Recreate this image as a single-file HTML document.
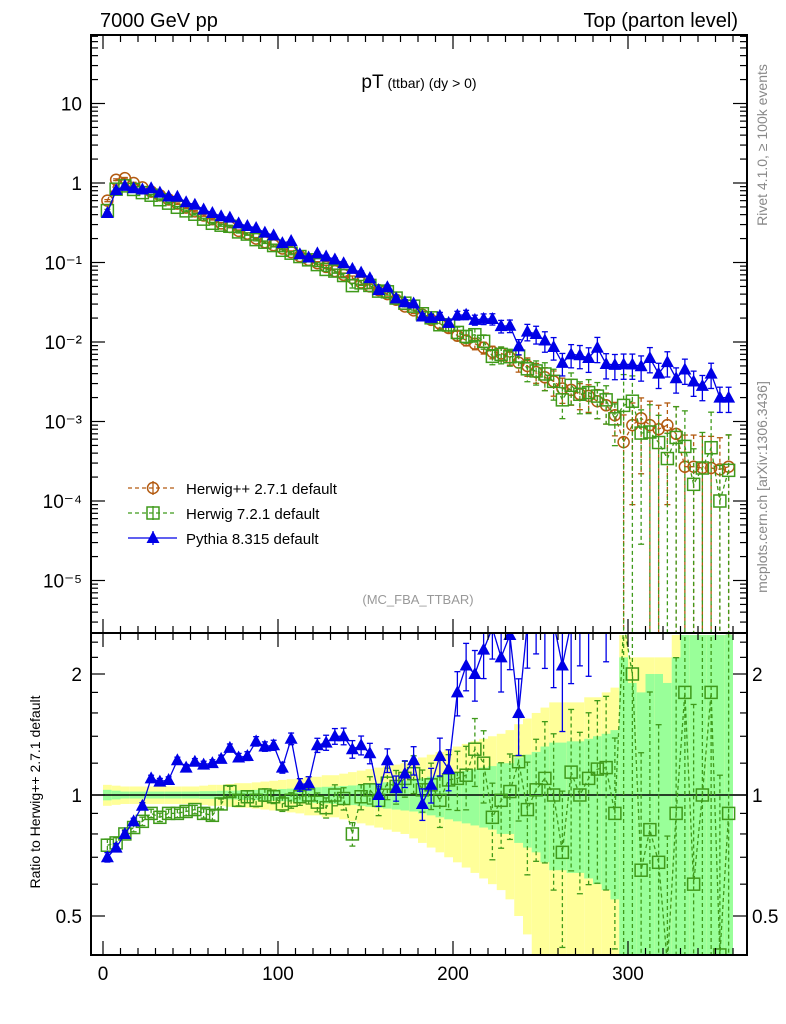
<!DOCTYPE html>
<html><head><meta charset="utf-8"><style>
body{margin:0;background:#fff;overflow:hidden;}
svg{display:block;font-family:"Liberation Sans",sans-serif;}
</style></head><body>
<svg id="c" width="786" height="1024" xmlns="http://www.w3.org/2000/svg">
<defs>
<clipPath id="cm"><rect x="91" y="35" width="656" height="598"/></clipPath>
<clipPath id="cr"><rect x="91" y="633" width="656" height="322"/></clipPath>
</defs>
<g id="bands" clip-path="url(#cr)"></g>
<g id="marks"></g>
<rect x="91" y="35" width="656" height="598" fill="none" stroke="#000" stroke-width="2"/>
<rect x="91" y="633" width="656" height="322" fill="none" stroke="#000" stroke-width="2"/>
<g id="axes"></g>
<text x="100" y="27" font-size="20">7000 GeV pp</text>
<text x="738" y="27" font-size="20" text-anchor="end">Top (parton level)</text>
<text x="419" y="88" text-anchor="middle"><tspan font-size="19">pT</tspan><tspan font-size="14"> (ttbar) (dy &gt; 0)</tspan></text>
<text x="418" y="604" font-size="13" fill="#999" text-anchor="middle">(MC_FBA_TTBAR)</text>
<text transform="translate(767,145) rotate(-90)" font-size="14" fill="#888" text-anchor="middle">Rivet 4.1.0, ≥ 100k events</text>
<text transform="translate(767,487) rotate(-90)" font-size="14" fill="#888" text-anchor="middle">mcplots.cern.ch [arXiv:1306.3436]</text>
<text transform="translate(40,792) rotate(-90)" font-size="14" text-anchor="middle">Ratio to Herwig++ 2.7.1 default</text>
<g id="legend"></g>
</svg>
<script>
const binCenters=[];for(let i=0;i<72;i++)binCenters.push(2.5+5*i);
const herwigppValues=[0.6,1.1,1.15,1.0,0.88,0.78,0.7,0.62,0.55,0.49,0.44,0.39,0.35,0.31,0.28,0.25,0.23,0.2,0.18,0.165,0.15,0.135,0.12,0.108,0.098,0.088,0.078,0.07,0.064,0.056,0.05,0.045,0.04,0.034,0.028,0.025,0.022,0.019,0.017,0.015,0.012,0.0105,0.0095,0.0085,0.0075,0.0072,0.0064,0.0055,0.005,0.0042,0.0036,0.0032,0.0026,0.0025,0.0022,0.0021,0.0018,0.0016,0.0012,0.00055,0.0009,0.0011,0.0009,0.0008,0.0009,0.0007,0.00027,0.00027,0.00026,0.00026,0.00025,0.00027];
const herwig7Ratio=[0.75,0.76,0.80,0.83,0.86,0.90,0.88,0.90,0.90,0.91,0.92,0.90,0.89,0.95,1.02,0.97,0.99,0.97,1.0,0.99,0.95,0.97,0.99,1.0,0.96,0.93,1.0,0.98,0.8,0.99,1.03,0.97,1.07,1.05,1.1,1.13,1.03,1.06,0.97,1.09,1.1,1.12,1.3,1.2,0.88,0.97,1.02,1.21,0.92,1.03,1.1,1.0,0.72,1.14,1.0,1.1,1.16,1.17,0.9,2.9,2.0,0.65,0.82,0.68,0.38,0.9,1.8,0.6,1.0,1.8,0.4,0.9];
const pythiaRatio=[0.70,0.74,0.80,0.86,0.94,1.10,1.08,1.09,1.22,1.17,1.21,1.19,1.2,1.23,1.31,1.24,1.25,1.36,1.32,1.33,1.17,1.38,1.06,1.07,1.33,1.35,1.4,1.4,1.3,1.33,1.27,1.0,1.22,1.04,1.13,1.22,0.95,1.06,1.25,1.16,1.8,2.1,2.0,2.3,2.6,2.2,2.5,1.6,2.7,3.0,2.9,2.7,2.1,2.8,3.1,3.0,4.7,3.3,4.3,9.5,5.8,4.5,7,5,6.2,5,16.7,11.8,10.8,15.4,8,7.4];
const statErr=[0.03,0.025,0.02,0.02,0.02,0.02,0.02,0.02,0.02,0.02,0.02,0.022,0.022,0.024,0.025,0.026,0.028,0.03,0.03,0.032,0.035,0.037,0.04,0.042,0.045,0.048,0.05,0.053,0.056,0.06,0.065,0.07,0.075,0.08,0.085,0.09,0.1,0.11,0.12,0.13,0.14,0.15,0.16,0.17,0.18,0.2,0.2,0.24,0.26,0.28,0.32,0.35,0.35,0.36,0.36,0.38,0.4,0.42,0.45,1.2,0.9,0.8,1.0,1.0,0.9,1.2,1.5,1.5,1.5,1.5,1.5,1.5];
const sysErr=[0.06,0.055,0.05,0.05,0.05,0.05,0.05,0.05,0.05,0.05,0.05,0.055,0.06,0.06,0.065,0.07,0.07,0.075,0.08,0.085,0.09,0.095,0.1,0.11,0.11,0.12,0.12,0.13,0.14,0.15,0.16,0.17,0.18,0.19,0.2,0.22,0.24,0.26,0.28,0.3,0.32,0.34,0.36,0.38,0.4,0.42,0.45,0.5,0.55,0.6,0.65,0.7,0.7,0.7,0.7,0.75,0.75,0.8,0.85,1.5,1.2,1.2,1.2,1.2,1.2,1.5,1.5,1.5,1.5,1.5,1.5,1.5];
const mainTicks=[[10,"10"],[1,"1"],[0.1,"10⁻¹"],[0.01,"10⁻²"],[0.001,"10⁻³"],[0.0001,"10⁻⁴"],[0.00001,"10⁻⁵"]];
const ratioTicks=[[2,"2"],[1,"1"],[0.5,"0.5"]];
const xTicks=[0,100,200,300];

const NS="http://www.w3.org/2000/svg";
const X=v=>103+1.75*v;
const Ym=v=>183-79.5*Math.log10(v);
const Yr=v=>795-121*Math.log2(v);
function mk(tag,at,par){const e=document.createElementNS(NS,tag);for(const k in at)e.setAttribute(k,at[k]);par.appendChild(e);return e;}
const marks=document.getElementById('marks'),axes=document.getElementById('axes'),bands=document.getElementById('bands'),leg=document.getElementById('legend');
const gm=mk('g',{'clip-path':'url(#cm)'},marks);
const gr=mk('g',{'clip-path':'url(#cr)'},marks);
binCenters.forEach((c,i)=>{
  const x0=X(c-2.5),w=1.75*5;
  const lo=Math.max(1-sysErr[i],0.3),hi=Math.min(1+sysErr[i],2.6);
  const y=mk('rect',{x:x0,y:Yr(hi),width:w,height:Yr(lo)-Yr(hi),fill:'#ffff99'},bands);
  
  
  const lo2=Math.max(1-statErr[i],0.3),hi2=Math.min(1+statErr[i],2.6);
  const g=mk('rect',{x:x0,y:Yr(hi2),width:w,height:Yr(lo2)-Yr(hi2),fill:'#99ff99'},bands);
  
  
});
mk('line',{x1:91,x2:747,y1:Yr(1),y2:Yr(1),stroke:'#000','stroke-width':1.5},gr);
const h7Values=herwigppValues.map((v,i)=>v*herwig7Ratio[i]);
const pyValues=herwigppValues.map((v,i)=>v*pythiaRatio[i]);
function marker(type,x,y,col,par,name){
  let e;
  if(type==='o')e=mk('circle',{cx:x,cy:y,r:5.5,fill:'none',stroke:col,'stroke-width':1.5},par);
  else if(type==='s')e=mk('rect',{x:x-6,y:y-6,width:12,height:12,fill:'none',stroke:col,'stroke-width':1.5},par);
  else e=mk('path',{d:`M${x},${y-7}L${x+6.5},${y+5}L${x-6.5},${y+5}Z`,fill:col},par);
  
  
}
function series(vals,errs,Yf,type,col,dash,par,name,top,bot){
  const g=mk('g',{},par);
  
  
  const cl=y=>Math.max(top-10,Math.min(bot+10,y));
  const pts=binCenters.map((c,i)=>X(c)+','+cl(Yf(vals[i]))).join(' ');
  const pl=mk('polyline',{points:pts,fill:'none',stroke:col,'stroke-width':1.3},g);
  if(dash)pl.setAttribute('stroke-dasharray','4,3');
  binCenters.forEach((c,i)=>{
    const v=vals[i],e=errs[i]*v;
    const yt=cl(Yf(v+e)),yb=v-e>0?cl(Yf(v-e)):bot,x=X(c);
    const l=mk('line',{x1:x,x2:x,y1:yt,y2:yb,stroke:col,'stroke-width':1.3},g);
    if(dash)l.setAttribute('stroke-dasharray','4,3');
    mk('line',{x1:x-3,x2:x+3,y1:yt,y2:yt,stroke:col,'stroke-width':1.3},g);
    if(yb<bot)mk('line',{x1:x-3,x2:x+3,y1:yb,y2:yb,stroke:col,'stroke-width':1.3},g);
    const ym=Yf(v);
    if(ym>top-10&&ym<bot+10)marker(type,x,ym,col,g,name+'-point');
  });
}
const brown='#b35a10',green='#3f9a1a',blue='#0000e6';
const errH7=statErr.map(e=>e*1.2),errPy=statErr.map(e=>Math.min(e*0.9,0.35)),errHpp=statErr.map(e=>e*1.0);
series(herwigppValues,errHpp,Ym,'o',brown,true,gm,'herwigpp',35,633);
series(h7Values,errH7,Ym,'s',green,true,gm,'herwig7',35,633);
series(pyValues,errPy,Ym,'t',blue,false,gm,'pythia',35,633);
series(herwig7Ratio,errH7,Yr,'s',green,true,gr,'herwig7-ratio',633,955);
series(pythiaRatio,errPy,Yr,'t',blue,false,gr,'pythia-ratio',633,955);
function tk(x1,y1,x2,y2){mk('line',{x1,y1,x2,y2,stroke:'#000','stroke-width':1.2},axes);}
for(let v=0;v<=360;v+=10){const x=X(v),L=v%100===0?14:7;
  tk(x,633,x,633-L);tk(x,35,x,35+L);tk(x,955,x,955-L);tk(x,633,x,633+L);}
xTicks.forEach(v=>{const t=mk('text',{x:X(v),y:980,'font-size':19,'text-anchor':'middle'},axes);t.textContent=v;
  });
for(let d=-6;d<=1;d++)for(let m=1;m<10;m++){const v=m*Math.pow(10,d),y=Ym(v);if(y<35||y>633)continue;
  const L=m===1?14:7;tk(91,y,91+L,y);tk(747,y,747-L,y);}
mainTicks.forEach(([v,s])=>{const t=mk('text',{x:82,y:Ym(v)+7,'font-size':19,'text-anchor':'end'},axes);t.textContent=s;
  });
[0.4,0.5,0.6,0.7,0.8,0.9,1,1.2,1.4,1.6,1.8,2,2.2,2.4].forEach(v=>{const y=Yr(v);if(y<633||y>955)return;
  const L=(v===0.5||v===1||v===2)?14:7;tk(91,y,91+L,y);tk(747,y,747-L,y);});
ratioTicks.forEach(([v,s])=>{
  const t=mk('text',{x:82,y:Yr(v)+7,'font-size':19,'text-anchor':'end'},axes);t.textContent=s;
  
  const t2=mk('text',{x:752,y:Yr(v)+7,'font-size':19},axes);t2.textContent=s;
  });
[['o',brown,true,'Herwig++ 2.7.1 default'],['s',green,true,'Herwig 7.2.1 default'],['t',blue,false,'Pythia 8.315 default']].forEach((r,i)=>{
  const y=488+25*i;const g=mk('g',{},leg);
  
  
  const l=mk('line',{x1:128,x2:177,y1:y,y2:y,stroke:r[1],'stroke-width':1.3},g);if(r[2])l.setAttribute('stroke-dasharray','4,3');
  mk('line',{x1:153,x2:153,y1:y-7,y2:y+7,stroke:r[1],'stroke-width':1.3},g);
  marker(r[0],153,y,r[1],g,'legend-marker');
  const t=mk('text',{x:186,y:y+6,'font-size':15},g);t.textContent=r[3];
});
</script>
</body></html>
